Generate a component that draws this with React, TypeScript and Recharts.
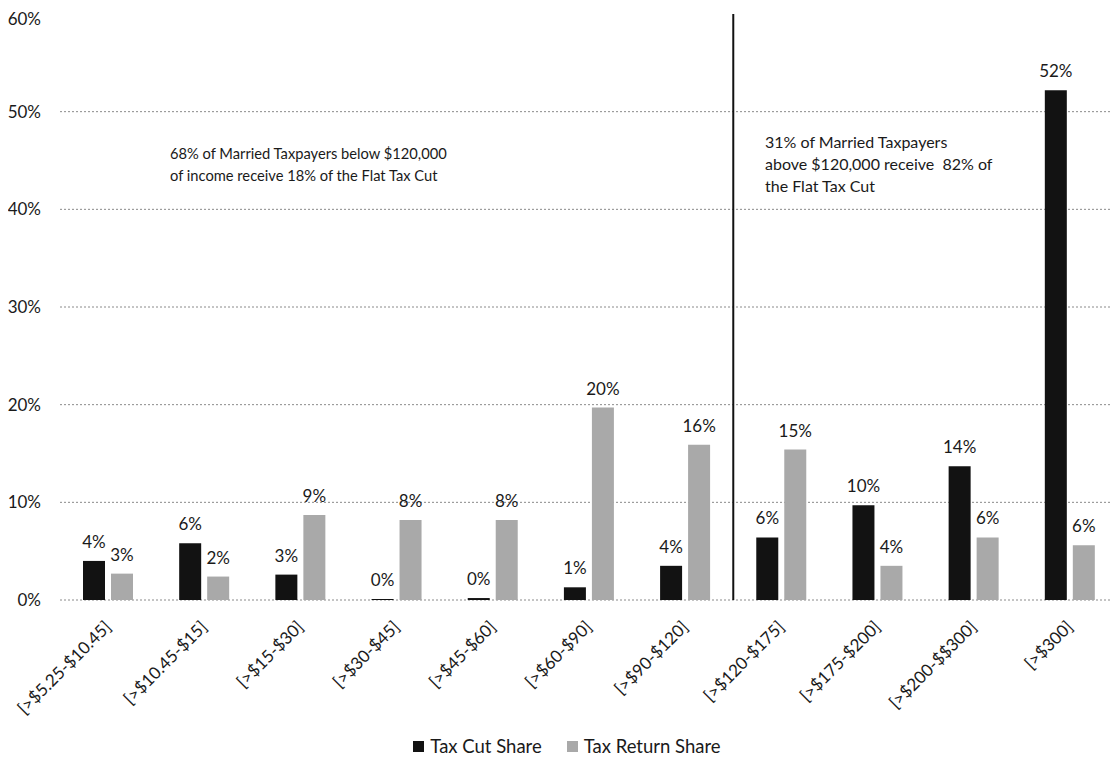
import React from 'react';
import {
  BarChart,
  Bar,
  XAxis,
  YAxis,
  CartesianGrid,
  ReferenceLine,
  LabelList,
  Legend,
} from 'recharts';

const categories = [
  '[>$5.25-$10.45]',
  '[>$10.45-$15]',
  '[>$15-$30]',
  '[>$30-$45]',
  '[>$45-$60]',
  '[>$60-$90]',
  '[>$90-$120]',
  '[>$120-$175]',
  '[>$175-$200]',
  '[>$200-$$300]',
  '[>$300]',
];
const taxCutShare = [4.0, 5.8, 2.6, 0.1, 0.2, 1.3, 3.5, 6.4, 9.7, 13.7, 52.2];
const taxReturnShare = [2.7, 2.4, 8.7, 8.2, 8.2, 19.7, 15.9, 15.4, 3.5, 6.4, 5.6];
const yTicks = [0, 10, 20, 30, 40, 50, 60];
const gridValues = [0, 10, 20, 30, 40, 50];
const dividerCategory = categories[7]; // line drawn at the start of [>$120-$175]
const seriesNames = ['Tax Cut Share', 'Tax Return Share'];
const annotationLeft = ['68% of Married Taxpayers below $120,000', 'of income receive 18% of the Flat Tax Cut'];
const annotationRight = ['31% of Married Taxpayers', 'above $120,000 receive  82% of', 'the Flat Tax Cut'];

const data = categories.map((c, i) => ({
  category: c,
  cut: taxCutShare[i],
  ret: taxReturnShare[i],
}));

const FONT = 'Lato, "Noto Sans", sans-serif';
const TEXT = '#1a1a1a';
const DARK = '#121212';
const LIGHT = '#a9a9a9';

const XTick = (props: any) => {
  const { x, y, payload } = props;
  const px = x + 4;
  const py = y + 20;
  return (
    <text
      x={px}
      y={py}
      transform={`rotate(-45 ${px} ${py})`}
      textAnchor="end"
      fontFamily={FONT}
      fontSize={17}
      fill={TEXT}
    >
      {payload.value}
    </text>
  );
};

const fmt = (v: any) => `${Math.round(Number(v))}%`;

const LegendContent = () => (
  <div
    style={{
      display: 'flex',
      justifyContent: 'center',
      alignItems: 'center',
      fontFamily: FONT,
      fontSize: 18.5,
      color: TEXT,
      gap: 25,
      marginLeft: 8,
    }}
  >
    {seriesNames.map((n, i) => (
      <div key={n} style={{ display: 'flex', alignItems: 'center' }}>
        <span
          style={{
            display: 'inline-block',
            width: 11,
            height: 11,
            background: i === 0 ? DARK : LIGHT,
            marginRight: 6,
          }}
        />
        <span>{n}</span>
      </div>
    ))}
  </div>
);

export default function App() {
  return (
    <div style={{ position: 'relative', width: 1110, height: 755 }}>
      <BarChart
        width={1110}
        height={755}
        data={data}
        margin={{ top: 6, right: 0, bottom: 2, left: 0 }}
        barSize={22}
        barGap={6}
      >
        <CartesianGrid
          vertical={false}
          horizontalValues={gridValues}
          stroke="#8a8a8a"
          strokeDasharray="2 2"
        />
        <XAxis
          dataKey="category"
          tick={<XTick />}
          tickLine={false}
          axisLine={false}
          interval={0}
          height={135}
        />
        <YAxis
          domain={[0, 60]}
          ticks={yTicks}
          tickFormatter={(v: number) => `${v}%`}
          tickLine={false}
          axisLine={false}
          width={52}
          tickMargin={13}
          tick={{ fontFamily: FONT, fontSize: 17, fill: TEXT }}
        />
        <Legend verticalAlign="bottom" height={26} content={<LegendContent />} />
        <Bar dataKey="cut" name={seriesNames[0]} fill={DARK} isAnimationActive={false}>
          <LabelList
            dataKey="cut"
            position="top"
            offset={13}
            formatter={fmt}
            style={{ fontFamily: FONT, fontSize: 17, fill: TEXT }}
          />
        </Bar>
        <Bar dataKey="ret" name={seriesNames[1]} fill={LIGHT} isAnimationActive={false}>
          <LabelList
            dataKey="ret"
            position="top"
            offset={13}
            formatter={fmt}
            style={{ fontFamily: FONT, fontSize: 17, fill: TEXT }}
          />
        </Bar>
        <ReferenceLine
          x={dividerCategory}
          position="start"
          stroke="#111"
          strokeWidth={2}
        />
      </BarChart>
      <div
        style={{
          position: 'absolute',
          left: 162,
          top: 134,
          fontFamily: FONT,
          fontSize: 14.7,
          lineHeight: '22px',
          color: TEXT,
          whiteSpace: 'pre',
        }}
      >
        {annotationLeft.join('\n')}
      </div>
      <div
        style={{
          position: 'absolute',
          left: 757,
          top: 123,
          fontFamily: FONT,
          fontSize: 16,
          lineHeight: '22px',
          color: TEXT,
          whiteSpace: 'pre',
        }}
      >
        {annotationRight.join('\n')}
      </div>
    </div>
  );
}
